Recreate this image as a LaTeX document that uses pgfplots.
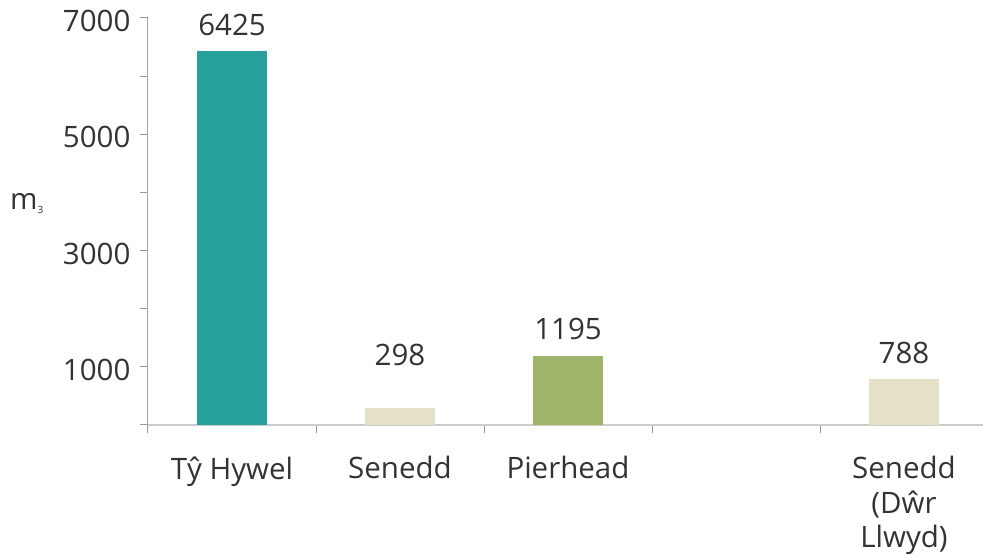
\documentclass[border=0pt]{standalone}
\usepackage{fontspec}
\setmainfont{Open Sans}
\usepackage{pgfplots}
\pgfplotsset{compat=1.18}
\definecolor{teal1}{HTML}{26A09B}
\definecolor{beige1}{HTML}{E5E0C8}
\definecolor{green1}{HTML}{A0B46B}
\definecolor{txt}{HTML}{333333}
\newcommand{\bigf}{\fontsize{29.5}{34.5}\selectfont}
\begin{document}
\begin{tikzpicture}
\path[use as bounding box] (0,0) rectangle (983pt,556pt);
\begin{axis}[
  at={(148pt,131pt)}, anchor=south west,
  scale only axis, width=840pt, height=407pt,
  xmin=-0.5, xmax=4.5, ymin=0, ymax=7000,
  axis x line=bottom, axis y line=left,
  x axis line style={-, draw=black!20, line width=2pt},
  y axis line style={-, draw=black!35, line width=1pt},
  tick align=outside,
  major tick length=8pt, minor tick length=8pt,
  every tick/.style={draw=black!40, line width=1pt},
  every major x tick/.style={draw=none},
  xtick={0,1,2,3,4},
  xticklabels={T\^{y} Hywel, Senedd, Pierhead, {}, {Senedd\\(D\^{w}r\\Llwyd)}},
  minor xtick={-0.5,0.5,1.5,2.5,3.5,4.5},
  ytick={1000,3000,5000,7000},
  minor ytick={0,2000,4000,6000},
  /pgf/number format/assume math mode=true,
  /pgf/number format/1000 sep={},
  xticklabel style={font=\bigf, text=txt, align=center, anchor=north, yshift=-20pt},
  yticklabel style={font=\bigf, text=txt, xshift=-6pt, yshift=-3pt},
  ylabel={m\textsubscript{\fontsize{10}{10}\selectfont 3}},
  ylabel style={rotate=-90, font=\bigf, text=txt, at={(axis description cs:-0.144,0.545)}, anchor=center},
  nodes near coords,
  nodes near coords style={font=\bigf, text=txt, anchor=south, yshift=12pt},
  clip=false,
]
\addplot[ybar, bar shift=0pt, bar width=70pt, fill=teal1, draw=none] coordinates {(0,6425)};
\addplot[ybar, bar shift=0pt, bar width=70pt, fill=beige1, draw=none, nodes near coords style={yshift=26pt}] coordinates {(1,298)};
\addplot[ybar, bar shift=0pt, bar width=70pt, fill=green1, draw=none] coordinates {(2,1195)};
\addplot[ybar, bar shift=0pt, bar width=70pt, fill=beige1, draw=none] coordinates {(4,788)};
\end{axis}
\end{tikzpicture}
\end{document}
